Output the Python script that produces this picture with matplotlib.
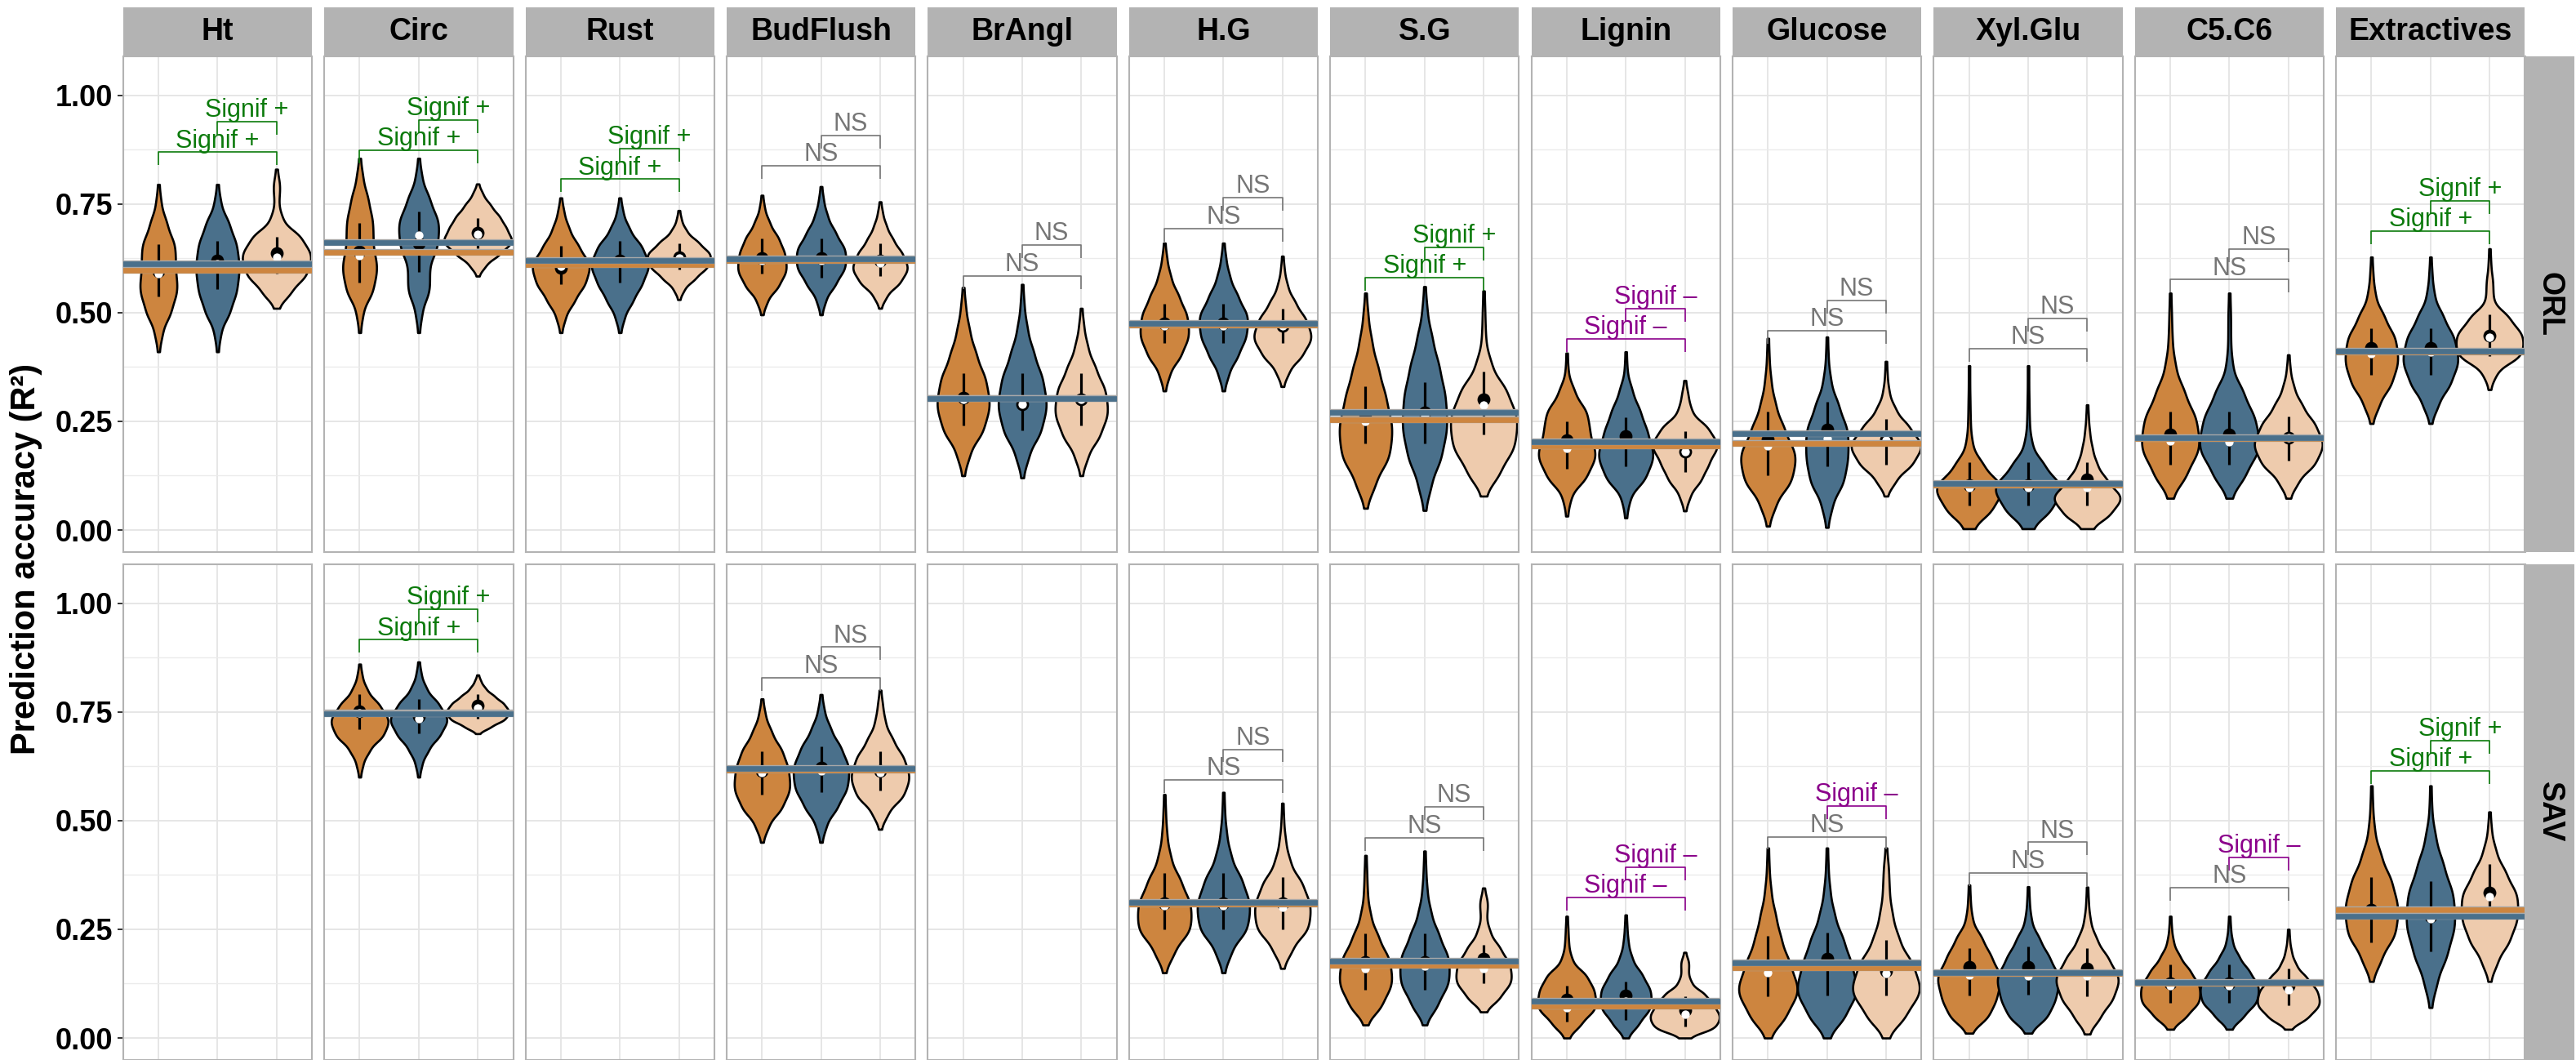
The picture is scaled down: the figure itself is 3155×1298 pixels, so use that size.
import numpy as np
import matplotlib.pyplot as plt
import matplotlib.patheffects as pe

plt.rcParams["font.family"] = ["Liberation Sans", "DejaVu Sans"]

traits = ["Ht", "Circ", "Rust", "BudFlush", "BrAngl", "H.G", "S.G",
          "Lignin", "Glucose", "Xyl.Glu", "C5.C6", "Extractives"]
sites = ["ORL", "SAV"]
fills = ["#CD853F", "#4A708B", "#EECBAD"]

# ---- ORL ----
# min / max of each violin (three models per trait)
orl_lo = [[0.41, 0.41, 0.51], [0.454, 0.454, 0.584], [0.454, 0.454, 0.53], [0.495, 0.495, 0.51],
          [0.125, 0.12, 0.125], [0.32, 0.32, 0.33], [0.05, 0.045, 0.078], [0.032, 0.028, 0.044],
          [0.009, 0.006, 0.078], [0.003, 0.003, 0.003], [0.073, 0.073, 0.073], [0.245, 0.245, 0.323]]
orl_hi = [[0.795, 0.795, 0.83], [0.855, 0.855, 0.796], [0.764, 0.764, 0.735], [0.77, 0.79, 0.755],
          [0.558, 0.565, 0.51], [0.66, 0.66, 0.63], [0.545, 0.56, 0.55], [0.407, 0.41, 0.344],
          [0.441, 0.444, 0.388], [0.378, 0.378, 0.288], [0.545, 0.545, 0.403], [0.628, 0.628, 0.647]]
# half-widths at nine evenly spaced levels from min to max
orl_shape = [
    [[0.01, 0.06, 0.19, 0.27, 0.24, 0.24, 0.13, 0.04, 0.01],
     [0.01, 0.05, 0.19, 0.28, 0.31, 0.28, 0.18, 0.05, 0.01],
     [0.02, 0.22, 0.44, 0.50, 0.37, 0.09, 0.03, 0.05, 0.01]],
    [[0.01, 0.05, 0.20, 0.25, 0.19, 0.19, 0.13, 0.05, 0.01],
     [0.01, 0.05, 0.16, 0.15, 0.27, 0.29, 0.17, 0.05, 0.01],
     [0.01, 0.12, 0.33, 0.50, 0.42, 0.33, 0.20, 0.08, 0.01]],
    [[0.01, 0.07, 0.21, 0.36, 0.42, 0.27, 0.13, 0.05, 0.01],
     [0.01, 0.07, 0.20, 0.33, 0.42, 0.33, 0.15, 0.05, 0.01],
     [0.01, 0.08, 0.25, 0.42, 0.46, 0.30, 0.12, 0.04, 0.01]],
    [[0.01, 0.08, 0.25, 0.35, 0.33, 0.25, 0.12, 0.04, 0.01],
     [0.01, 0.07, 0.22, 0.35, 0.35, 0.22, 0.10, 0.04, 0.01],
     [0.01, 0.10, 0.30, 0.40, 0.33, 0.20, 0.10, 0.04, 0.01]],
    [[0.01, 0.10, 0.30, 0.38, 0.33, 0.20, 0.10, 0.04, 0.01],
     [0.01, 0.10, 0.28, 0.35, 0.30, 0.18, 0.08, 0.03, 0.01],
     [0.01, 0.10, 0.28, 0.38, 0.35, 0.22, 0.10, 0.04, 0.01]],
    [[0.01, 0.08, 0.25, 0.35, 0.33, 0.22, 0.10, 0.04, 0.01],
     [0.01, 0.08, 0.22, 0.33, 0.35, 0.22, 0.10, 0.04, 0.01],
     [0.01, 0.10, 0.30, 0.42, 0.35, 0.20, 0.08, 0.03, 0.01]],
    [[0.01, 0.15, 0.35, 0.38, 0.30, 0.20, 0.10, 0.04, 0.01],
     [0.01, 0.10, 0.25, 0.32, 0.30, 0.22, 0.12, 0.04, 0.01],
     [0.02, 0.25, 0.45, 0.48, 0.35, 0.12, 0.03, 0.02, 0.01]],
    [[0.01, 0.06, 0.30, 0.42, 0.33, 0.30, 0.12, 0.02, 0.01],
     [0.01, 0.06, 0.30, 0.40, 0.32, 0.22, 0.10, 0.02, 0.01],
     [0.01, 0.08, 0.25, 0.35, 0.48, 0.35, 0.10, 0.05, 0.01]],
    [[0.01, 0.12, 0.35, 0.40, 0.25, 0.12, 0.05, 0.02, 0.01],
     [0.01, 0.08, 0.25, 0.30, 0.30, 0.18, 0.06, 0.02, 0.01],
     [0.01, 0.15, 0.40, 0.52, 0.35, 0.15, 0.05, 0.02, 0.01]],
    [[0.05, 0.35, 0.50, 0.22, 0.05, 0.02, 0.015, 0.01, 0.01],
     [0.05, 0.35, 0.50, 0.25, 0.06, 0.02, 0.015, 0.01, 0.01],
     [0.06, 0.35, 0.50, 0.30, 0.15, 0.08, 0.04, 0.02, 0.01]],
    [[0.02, 0.25, 0.42, 0.38, 0.22, 0.08, 0.03, 0.02, 0.01],
     [0.02, 0.25, 0.44, 0.38, 0.22, 0.05, 0.02, 0.02, 0.01],
     [0.02, 0.15, 0.40, 0.50, 0.40, 0.22, 0.09, 0.03, 0.01]],
    [[0.01, 0.12, 0.30, 0.38, 0.35, 0.20, 0.06, 0.025, 0.01],
     [0.01, 0.12, 0.30, 0.40, 0.35, 0.20, 0.06, 0.025, 0.01],
     [0.01, 0.10, 0.47, 0.48, 0.30, 0.05, 0.05, 0.02, 0.01]],
]
orl_box_lo = [[0.538, 0.555, 0.59], [0.569, 0.594, 0.649], [0.565, 0.57, 0.60], [0.59, 0.58, 0.585],
              [0.24, 0.23, 0.24], [0.43, 0.43, 0.43], [0.20, 0.20, 0.219], [0.14, 0.147, 0.134],
              [0.125, 0.147, 0.15], [0.056, 0.056, 0.056], [0.151, 0.151, 0.16], [0.357, 0.357, 0.40]]
orl_box_hi = [[0.658, 0.665, 0.675], [0.706, 0.733, 0.717], [0.653, 0.665, 0.66], [0.67, 0.67, 0.66],
              [0.36, 0.36, 0.36], [0.52, 0.52, 0.51], [0.33, 0.34, 0.364], [0.25, 0.26, 0.228],
              [0.272, 0.294, 0.256], [0.156, 0.156, 0.156], [0.272, 0.272, 0.262], [0.464, 0.464, 0.496]]
orl_median = [[0.595, 0.62, 0.636], [0.64, 0.66, 0.683], [0.603, 0.62, 0.628], [0.625, 0.625, 0.62],
              [0.305, 0.29, 0.30], [0.475, 0.475, 0.47], [0.26, 0.27, 0.30], [0.206, 0.216, 0.18],
              [0.209, 0.231, 0.209], [0.103, 0.103, 0.116], [0.22, 0.22, 0.212], [0.418, 0.418, 0.447]]
orl_mean = [[0.59, 0.612, 0.628], [0.632, 0.678, 0.68], [0.607, 0.615, 0.625], [0.62, 0.62, 0.615],
            [0.30, 0.29, 0.30], [0.47, 0.47, 0.47], [0.25, 0.265, 0.287], [0.188, 0.20, 0.18],
            [0.194, 0.21, 0.206], [0.097, 0.097, 0.097], [0.205, 0.203, 0.212], [0.405, 0.41, 0.443]]
orl_ref_orange = [0.598, 0.639, 0.611, 0.62, 0.302, 0.472, 0.254, 0.194, 0.20, 0.104, 0.21, 0.41]
orl_ref_blue = [0.613, 0.662, 0.619, 0.624, 0.302, 0.475, 0.271, 0.203, 0.221, 0.108, 0.212, 0.411]
orl_bracket = [0.869, 0.873, 0.807, 0.838, 0.585, 0.694, 0.58, 0.439, 0.458, 0.417, 0.576, 0.687]
orl_tests = [("Signif +", "Signif +"), ("Signif +", "Signif +"), ("Signif +", "Signif +"),
             ("NS", "NS"), ("NS", "NS"), ("NS", "NS"), ("Signif +", "Signif +"),
             ("Signif \u2013", "Signif \u2013"), ("NS", "NS"), ("NS", "NS"), ("NS", "NS"),
             ("Signif +", "Signif +")]

# ---- SAV (no data for Ht, Rust, BrAngl) ----
sav_lo = [None, [0.60, 0.60, 0.70], None, [0.45, 0.45, 0.48], None, [0.15, 0.15, 0.16],
          [0.03, 0.03, 0.06], [0.0, 0.0, 0.0], [0.0, 0.0, 0.0], [0.011, 0.011, 0.009],
          [0.02, 0.02, 0.02], [0.13, 0.07, 0.13]]
sav_hi = [None, [0.86, 0.865, 0.835], None, [0.78, 0.79, 0.80], None, [0.56, 0.565, 0.54],
          [0.42, 0.43, 0.345], [0.28, 0.283, 0.197], [0.437, 0.437, 0.437], [0.352, 0.348, 0.347],
          [0.28, 0.28, 0.25], [0.58, 0.58, 0.52]]
sav_shape = [
    None,
    [[0.01, 0.05, 0.15, 0.35, 0.42, 0.30, 0.12, 0.04, 0.01],
     [0.01, 0.05, 0.15, 0.32, 0.42, 0.30, 0.12, 0.04, 0.01],
     [0.01, 0.20, 0.40, 0.45, 0.38, 0.25, 0.12, 0.05, 0.01]],
    None,
    [[0.01, 0.10, 0.30, 0.40, 0.38, 0.30, 0.15, 0.05, 0.01],
     [0.01, 0.08, 0.25, 0.38, 0.40, 0.30, 0.15, 0.05, 0.01],
     [0.01, 0.12, 0.35, 0.42, 0.35, 0.20, 0.08, 0.04, 0.01]],
    None,
    [[0.01, 0.15, 0.38, 0.38, 0.25, 0.10, 0.04, 0.02, 0.01],
     [0.01, 0.12, 0.35, 0.38, 0.28, 0.12, 0.05, 0.02, 0.01],
     [0.01, 0.15, 0.38, 0.40, 0.30, 0.12, 0.05, 0.02, 0.01]],
    [[0.01, 0.25, 0.38, 0.35, 0.20, 0.08, 0.03, 0.02, 0.01],
     [0.01, 0.20, 0.35, 0.35, 0.22, 0.10, 0.04, 0.02, 0.01],
     [0.02, 0.25, 0.40, 0.38, 0.25, 0.10, 0.04, 0.06, 0.01]],
    [[0.02, 0.22, 0.42, 0.40, 0.30, 0.08, 0.03, 0.02, 0.01],
     [0.02, 0.20, 0.36, 0.36, 0.25, 0.10, 0.04, 0.02, 0.01],
     [0.04, 0.45, 0.50, 0.42, 0.30, 0.10, 0.05, 0.06, 0.01]],
    [[0.02, 0.28, 0.44, 0.33, 0.20, 0.12, 0.05, 0.02, 0.01],
     [0.02, 0.28, 0.44, 0.36, 0.25, 0.12, 0.05, 0.02, 0.01],
     [0.02, 0.30, 0.50, 0.40, 0.20, 0.10, 0.05, 0.04, 0.01]],
    [[0.02, 0.30, 0.40, 0.46, 0.33, 0.20, 0.05, 0.02, 0.01],
     [0.02, 0.30, 0.40, 0.45, 0.32, 0.18, 0.05, 0.02, 0.01],
     [0.02, 0.20, 0.38, 0.46, 0.32, 0.15, 0.05, 0.02, 0.01]],
    [[0.02, 0.25, 0.42, 0.42, 0.30, 0.15, 0.05, 0.02, 0.01],
     [0.02, 0.22, 0.40, 0.42, 0.30, 0.15, 0.05, 0.02, 0.01],
     [0.02, 0.30, 0.45, 0.42, 0.28, 0.12, 0.05, 0.02, 0.01]],
    [[0.01, 0.15, 0.35, 0.38, 0.30, 0.15, 0.05, 0.02, 0.01],
     [0.01, 0.10, 0.25, 0.35, 0.33, 0.20, 0.08, 0.02, 0.01],
     [0.01, 0.12, 0.30, 0.40, 0.40, 0.25, 0.10, 0.03, 0.01]],
]
sav_box_lo = [None, [0.71, 0.70, 0.735], None, [0.56, 0.565, 0.57], None, [0.25, 0.25, 0.25],
              [0.11, 0.11, 0.126], [0.038, 0.041, 0.026], [0.095, 0.098, 0.098], [0.098, 0.10, 0.095],
              [0.08, 0.08, 0.075], [0.22, 0.20, 0.28]]
sav_box_hi = [None, [0.79, 0.78, 0.79], None, [0.66, 0.67, 0.66], None, [0.38, 0.38, 0.37],
              [0.24, 0.24, 0.214], [0.12, 0.129, 0.095], [0.234, 0.242, 0.226], [0.207, 0.21, 0.207],
              [0.17, 0.17, 0.16], [0.37, 0.36, 0.40]]
sav_median = [None, [0.752, 0.74, 0.765], None, [0.615, 0.622, 0.615], None, [0.31, 0.31, 0.31],
              [0.175, 0.175, 0.182], [0.088, 0.098, 0.063], [0.167, 0.182, 0.154], [0.163, 0.163, 0.16],
              [0.125, 0.125, 0.12], [0.295, 0.28, 0.335]]
sav_mean = [None, [0.748, 0.735, 0.758], None, [0.61, 0.615, 0.61], None, [0.305, 0.305, 0.30],
            [0.16, 0.165, 0.16], [0.07, 0.085, 0.054], [0.151, 0.165, 0.148], [0.145, 0.142, 0.142],
            [0.12, 0.12, 0.11], [0.29, 0.275, 0.325]]
sav_ref_orange = [None, 0.748, None, 0.616, None, 0.308, 0.167, 0.074, 0.161, 0.148, 0.125, 0.295]
sav_ref_blue = [None, 0.746, None, 0.62, None, 0.312, 0.176, 0.085, 0.173, 0.151, 0.128, 0.28]
sav_bracket = [None, 0.916, None, 0.829, None, 0.594, 0.461, 0.323, 0.463, 0.38, 0.345, 0.614]
sav_tests = [None, ("Signif +", "Signif +"), None, ("NS", "NS"), None, ("NS", "NS"), ("NS", "NS"),
             ("Signif \u2013", "Signif \u2013"), ("NS", "Signif \u2013"), ("NS", "NS"),
             ("NS", "Signif \u2013"), ("Signif +", "Signif +")]

test_colors = {"Signif +": "#0B7A0B", "Signif \u2013": "#8B008B", "NS": "#767676"}

# figure geometry in pixels
W, H = 3155, 1298
panel_x0, panel_step, panel_w = 150.7, 246.4, 231.4
row_top = [69, 691]
row_h = 607
strip = 60
ylim = (-0.0507, 1.0895)
width_scale = 1.2


def profile(lo, hi, widths):
    # smooth the half-width profile between the violin's min and max
    widths = np.asarray(widths, dtype=float)
    lev = np.linspace(lo, hi, len(widths))
    grid = np.linspace(lo, hi, 300)
    h = (hi - lo) / (len(widths) - 1) * 0.5
    k = np.exp(-0.5 * ((grid[:, None] - lev[None, :]) / h) ** 2)
    return grid, (k * widths).sum(1) / k.sum(1)


def bracket(ax, x1, x2, y, label):
    col = test_colors[label]
    ax.plot([x1, x1, x2, x2], [y - 0.03, y, y, y - 0.03], color=col, lw=1.2, zorder=8,
            solid_capstyle="butt")
    ax.text((x1 + x2) / 2, y + 0.011, label, ha="center", va="baseline", color=col,
            fontsize=22, zorder=9)


fig = plt.figure(figsize=(W / 100, H / 100), dpi=100)

site_data = {
    "ORL": (orl_lo, orl_hi, orl_shape, orl_box_lo, orl_box_hi, orl_median, orl_mean,
            orl_ref_orange, orl_ref_blue, orl_bracket, orl_tests),
    "SAV": (sav_lo, sav_hi, sav_shape, sav_box_lo, sav_box_hi, sav_median, sav_mean,
            sav_ref_orange, sav_ref_blue, sav_bracket, sav_tests),
}

for r, site in enumerate(sites):
    lo, hi, shape, blo, bhi, med, mean, ref_o, ref_b, br, tests = site_data[site]
    for c, trait in enumerate(traits):
        left = panel_x0 + c * panel_step
        ax = fig.add_axes([left / W, 1 - (row_top[r] + row_h) / H, panel_w / W, row_h / H])
        ax.set_xlim(0.4, 3.6)
        ax.set_ylim(*ylim)
        ax.set_yticks([0, 0.25, 0.5, 0.75, 1.0])
        ax.set_yticks(np.arange(0.125, 1.1, 0.25), minor=True)
        ax.set_xticks([1, 2, 3])
        ax.grid(True, which="major", color="#E4E4E4", lw=1.3, zorder=0)
        ax.grid(True, which="minor", axis="y", color="#EBEBEB", lw=1.0, zorder=0)
        ax.set_axisbelow(True)
        for s in ax.spines.values():
            s.set_color("#B3B3B3")
            s.set_linewidth(1.5)
        ax.tick_params(axis="x", length=0, labelbottom=False)
        ax.tick_params(axis="y", which="minor", length=0)
        if c == 0:
            ax.set_yticklabels(["0.00", "0.25", "0.50", "0.75", "1.00"])
            ax.tick_params(axis="y", which="major", length=5, width=1.4, color="#333333",
                           labelsize=26, pad=4)
            for t in ax.get_yticklabels():
                t.set_fontweight("bold")
        else:
            ax.tick_params(axis="y", which="major", length=0, labelleft=False)

        if lo[c] is not None:
            for j in range(3):
                grid, dens = profile(lo[c][j], hi[c][j], shape[c][j])
                stats = [dict(coords=grid, vals=dens, mean=mean[c][j], median=med[c][j],
                              min=lo[c][j], max=hi[c][j])]
                parts = ax.violin(stats, positions=[j + 1],
                                  widths=[2 * width_scale * dens.max()], showextrema=False)
                for body in parts["bodies"]:
                    body.set_facecolor(fills[j])
                    body.set_edgecolor("black")
                    body.set_linewidth(1.9)
                    body.set_alpha(1)
                    body.set_zorder(2)
                ax.vlines(j + 1, blo[c][j], bhi[c][j], color="black", lw=2.3, zorder=3)
                ax.scatter([j + 1], [med[c][j]], s=130, color="black", lw=0, zorder=4)
                ax.scatter([j + 1], [mean[c][j]], s=55, color="white", lw=0, zorder=5)

            halo = [pe.Stroke(linewidth=6.0, foreground="#A9A9A9"), pe.Normal()]
            ax.axhline(ref_o[c], color=fills[0], lw=4.8, zorder=6, path_effects=halo)
            ax.axhline(ref_b[c], color=fills[1], lw=4.8, zorder=7, path_effects=halo)

            bracket(ax, 1, 3, br[c], tests[c][0])
            bracket(ax, 2, 3, br[c] + 0.07, tests[c][1])

        if r == 0:
            sax = fig.add_axes([left / W, 1 - row_top[0] / H, panel_w / W, strip / H])
            sax.set_facecolor("#B3B3B3")
            sax.set_xticks([])
            sax.set_yticks([])
            for s in sax.spines.values():
                s.set_visible(False)
            sax.text(0.5, 0.5, trait, ha="center", va="center", fontsize=27,
                     fontweight="bold", transform=sax.transAxes)

    right = panel_x0 + 11 * panel_step + panel_w
    rax = fig.add_axes([right / W, 1 - (row_top[r] + row_h) / H, strip / W, row_h / H])
    rax.set_facecolor("#B3B3B3")
    rax.set_xticks([])
    rax.set_yticks([])
    for s in rax.spines.values():
        s.set_visible(False)
    rax.text(0.5, 0.5, site, ha="center", va="center", rotation=270, fontsize=27,
             fontweight="bold", transform=rax.transAxes)

fig.text(32 / W, 1 - 684 / H, "Prediction accuracy (R\u00b2)", rotation=90, ha="center",
         va="center", fontsize=30, fontweight="bold")

fig.savefig("out.png", dpi=100)
